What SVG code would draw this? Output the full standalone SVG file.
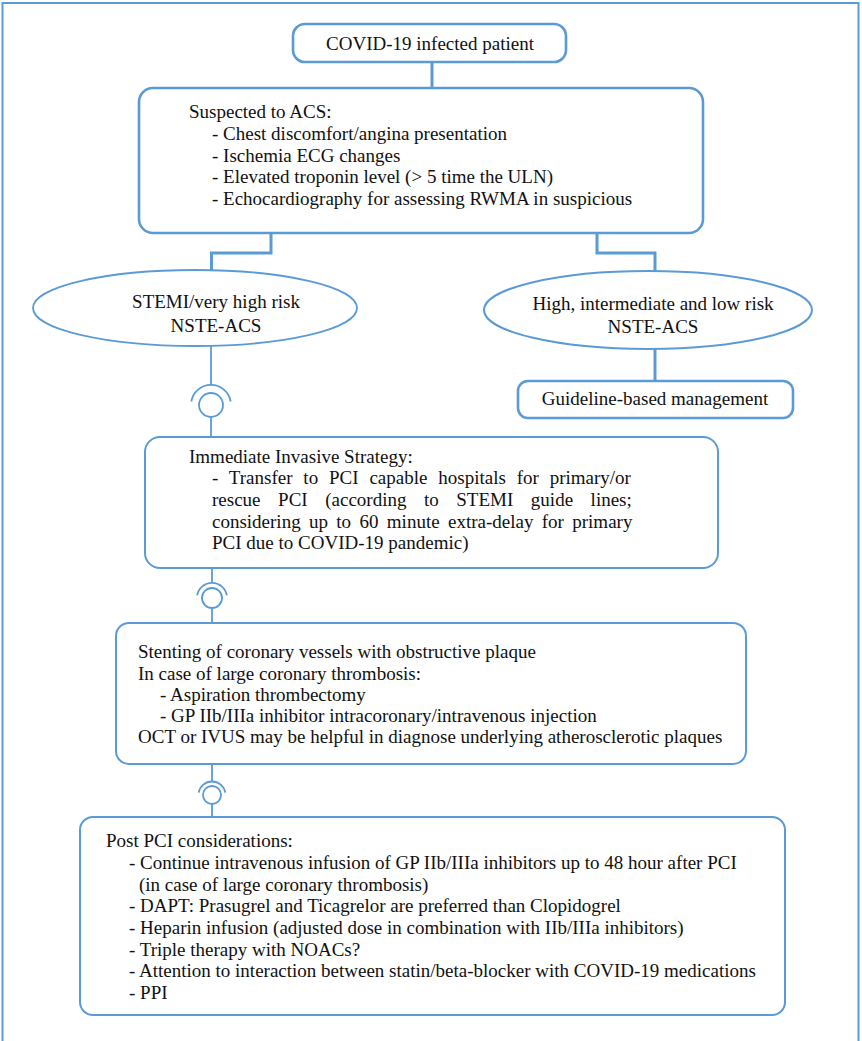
<svg xmlns="http://www.w3.org/2000/svg" width="862" height="1041" viewBox="0 0 862 1041">
<style>
text{font-family:"Liberation Serif","Times New Roman",serif;font-size:19px;fill:#111;}
.c{text-anchor:middle;}
.box{fill:#fff;stroke:#5b9bd5;stroke-width:2;}
.boxb{fill:#fff;stroke:#5b9bd5;stroke-width:2.6;}
.ln{fill:none;stroke:#5b9bd5;stroke-width:1.8;}
.lnb{fill:none;stroke:#5b9bd5;stroke-width:3;}
</style>
<rect x="2.5" y="3" width="856" height="1060" fill="#fff" stroke="#5b9bd5" stroke-width="2"/>
<g id="connectors">
<path class="lnb" d="M432 62V88"/>
<path class="lnb" d="M271 233V253H211.5V270"/>
<path class="lnb" d="M597 233V253H655V271"/>
<path class="lnb" d="M655 349V381"/>
<path class="ln" d="M211 346V385M211 417V437"/>
<path class="ln" d="M191.3 401.5A20 20 0 0 1 230.7 401.5"/>
<circle class="ln" cx="211" cy="405" r="12"/>
<path class="ln" d="M212 568V583M212 608V623"/>
<path class="ln" d="M197.2 595.4A15 15 0 0 1 226.8 595.4"/>
<circle class="ln" cx="212" cy="598" r="10"/>
<path class="ln" d="M212 764V782M212 804V817"/>
<path class="ln" d="M198.7 792.7A13.5 13.5 0 0 1 225.3 792.7"/>
<circle class="ln" cx="212" cy="795" r="9"/>
</g>
<g id="n1">
<rect class="boxb" x="293" y="24" width="273" height="38" rx="12"/>
<text class="c" x="430" y="50">COVID-19 infected patient</text>
</g>
<g id="n2">
<rect class="boxb" x="139" y="88" width="564" height="145" rx="14"/>
<text x="189" y="118">Suspected to ACS:</text>
<text x="212" y="140">- Chest discomfort/angina presentation</text>
<text x="212" y="162">- Ischemia ECG changes</text>
<text x="212" y="183">- Elevated troponin level (&gt; 5 time the ULN)</text>
<text x="212" y="205">- Echocardiography for assessing RWMA in suspicious</text>
</g>
<g id="n3">
<ellipse cx="195" cy="308" rx="162" ry="38" fill="#fff" stroke="#5b9bd5" stroke-width="1.8"/>
<text class="c" x="216" y="308">STEMI/very high risk</text>
<text class="c" x="216" y="332">NSTE-ACS</text>
</g>
<g id="n4">
<ellipse cx="648" cy="310" rx="164" ry="39" fill="#fff" stroke="#5b9bd5" stroke-width="2"/>
<text class="c" x="653" y="310">High, intermediate and low risk</text>
<text class="c" x="653" y="333">NSTE-ACS</text>
</g>
<g id="n5">
<rect class="boxb" x="518" y="381" width="275" height="37" rx="10"/>
<text class="c" x="655" y="405">Guideline-based management</text>
</g>
<g id="n6">
<rect class="box" x="145" y="437" width="573" height="131" rx="15"/>
<text x="189" y="463">Immediate Invasive Strategy:</text>
<text x="212" y="484" word-spacing="6.1">- Transfer to PCI capable hospitals for primary/or</text>
<text x="212" y="506" word-spacing="12.8">rescue PCI (according to STEMI guide lines;</text>
<text x="212" y="528" word-spacing="3.6">considering up to 60 minute extra-delay for primary</text>
<text x="212" y="549">PCI due to COVID-19 pandemic)</text>
</g>
<g id="n7">
<rect class="box" x="116" y="623" width="630" height="141" rx="13"/>
<text x="138" y="658">Stenting of coronary vessels with obstructive plaque</text>
<text x="138" y="680">In case of large coronary thrombosis:</text>
<text x="160" y="701">- Aspiration thrombectomy</text>
<text x="160" y="722">- GP IIb/IIIa inhibitor intracoronary/intravenous injection</text>
<text x="138" y="743">OCT or IVUS may be helpful in diagnose underlying atherosclerotic plaques</text>
</g>
<g id="n8">
<rect class="box" x="80" y="817" width="705" height="198" rx="13"/>
<text x="106" y="847">Post PCI considerations:</text>
<text x="129" y="869">- Continue intravenous infusion of GP IIb/IIIa inhibitors up to 48 hour after PCI</text>
<text x="139" y="891">(in case of large coronary thrombosis)</text>
<text x="129" y="912">- DAPT: Prasugrel and Ticagrelor are preferred than Clopidogrel</text>
<text x="129" y="934">- Heparin infusion (adjusted dose in combination with IIb/IIIa inhibitors)</text>
<text x="129" y="956">- Triple therapy with NOACs?</text>
<text x="129" y="977">- Attention to interaction between statin/beta-blocker with COVID-19 medications</text>
<text x="129" y="999">- PPI</text>
</g>
</svg>
